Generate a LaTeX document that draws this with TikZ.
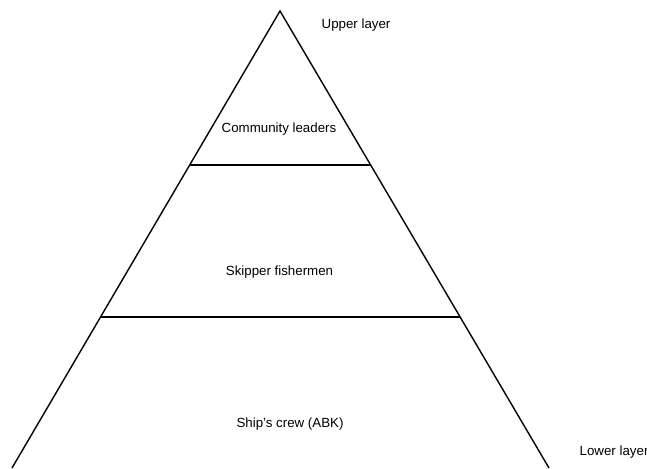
\documentclass[tikz,border=0pt]{standalone}
\usepackage{fontspec}
\setmainfont{Liberation Sans}
\usetikzlibrary{positioning,calc}

\begin{document}
\begin{tikzpicture}[x=1pt, y=-1pt, line width=1.4pt,
    layer/.style={font=\fontsize{13.3}{16}\selectfont, inner sep=0pt, anchor=base},
    side/.style={layer, anchor=base west}]
    \useasboundingbox (0,0) rectangle (647,468);
    % Pyramid
    \coordinate (apex) at (280,11);
    \coordinate (baseL) at (12,468);
    \coordinate (baseR) at (549,468);
    \draw (baseL) -- (apex) -- (baseR);
    % Dividers
    \draw ($(apex)!0.337!(baseL)$) -- ($(apex)!0.337!(baseR)$);
    \draw ($(apex)!0.670!(baseL)$) -- ($(apex)!0.670!(baseR)$);
    % Levels
    \node[layer] (leaders) at (279,132) {Community leaders};
    \node[layer] (skipper) at (279.5,275) {Skipper fishermen};
    \node[layer] (crew) at (290,427) {Ship’s crew (ABK)};
    % Side labels
    \node[side] (upper) at (321,28.3) {Upper layer};
    \node[side] (lower) at (579,455.7) {Lower layer};
\end{tikzpicture}
\end{document}
